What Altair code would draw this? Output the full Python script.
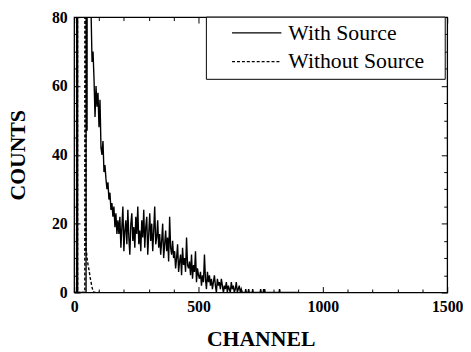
import altair as alt
import pandas as pd

# ---- data ----
series_names = ["With Source", "Without Source"]

# With Source: lead-in (spikes and steep decay)
with_lead_ch = [0, 10, 11, 13, 14, 48, 49, 51, 52, 53,
                56, 60, 64, 68, 72, 76, 80, 84, 88, 92, 96, 100, 104, 108, 112, 116,
                120, 124, 128, 132, 136, 140, 144, 148, 152, 156, 160, 164, 168, 172, 176]
with_lead_ct = [0, 0, 500, 500, 0, 0, 300, 300, 47, 200,
                150, 120, 95, 82, 67, 70, 62, 51, 60, 54, 58, 48, 56, 42, 40, 44,
                35, 37, 33, 30, 32, 27, 29, 24, 26, 22, 25, 19, 23, 17, 21]

# With Source: noisy body, channels 180..676 every 4 channels
with_body_ch = list(range(180, 677, 4))
with_body_ct = [17, 22, 13, 19, 25, 12, 18, 21, 14, 24, 16, 11, 20, 23, 15, 19, 13, 22, 17, 25, 14,
                18, 12, 21, 16, 24, 13, 19, 22, 11, 17, 23, 15, 20, 12, 18, 25, 14, 16, 21, 13,
                17, 11, 15, 20, 10, 14, 18, 12, 16, 9, 22, 13, 11, 15, 10,
                12, 7, 10, 14, 6, 9, 11, 5, 13, 8, 10, 6, 16, 8, 7,
                9, 5, 11, 4, 8, 6, 12, 3, 7, 5,
                4, 6, 2, 5, 3, 11, 4, 1, 6, 3,
                5, 2, 4, 1, 3, 5, 2, 0, 4, 2, 3, 1, 4, 2, 0,
                2, 1, 3, 0, 2, 1, 0, 3, 1, 2, 0, 1, 3, 0, 1, 2, 0, 1, 0]

# With Source: sparse tail
with_tail_ch = [680, 688, 690, 692, 700, 702, 704, 716, 718, 720, 748, 750, 752,
                760, 762, 764, 766, 768, 824, 826, 828, 900]
with_tail_ct = [0, 0, 1, 0, 0, 1, 0, 0, 1, 0, 0, 1, 0,
                0, 1, 0, 1, 0, 0, 1, 0, 0]

# Without Source
without_ch = [0, 10, 11, 13, 14, 43, 44, 46, 48, 52, 56, 60, 64, 68, 72, 76, 80, 100]
without_ct = [0, 0, 500, 500, 0, 0, 500, 150, 13, 10, 8, 6.5, 4.5, 3, 1.5, 0.5, 0, 0]

x_ticks_major = [0, 500, 1000, 1500]
x_ticks_minor = [100, 200, 300, 400, 600, 700, 800, 900, 1100, 1200, 1300, 1400]
y_ticks_major = [0, 20, 40, 60, 80]
y_ticks_minor = [5, 10, 15, 25, 30, 35, 45, 50, 55, 65, 70, 75]

w_ch = with_lead_ch + with_body_ch + with_tail_ch
w_ct = with_lead_ct + with_body_ct + with_tail_ct
df = pd.concat([
    pd.DataFrame({"channel": w_ch, "counts": w_ct, "series": series_names[0]}),
    pd.DataFrame({"channel": without_ch, "counts": without_ct, "series": series_names[1]}),
], ignore_index=True)

FONT = "Liberation Serif"
W, H = 378, 279
xs = alt.Scale(domain=[0, 1500], nice=False, zero=False)
ys = alt.Scale(domain=[0, 80], nice=False, zero=False)


def tick_axis(orient, vals, size):
    return alt.Axis(orient=orient, values=vals, tickSize={"expr": str(-size)},
                    labels=False, domain=False, grid=False, title=None, ticks=True,
                    tickColor="black", tickWidth=1)


x_label_axis = alt.Axis(orient="bottom", values=x_ticks_major, format="d", ticks=False,
                        domain=False, grid=False,
                        labelFont=FONT, labelFontSize=16, labelFontWeight="bold", labelColor="black",
                        labelBaseline="alphabetic", labelPadding=19, labelFlush=False,
                        labelOverlap=False, labelBound=False,
                        title="CHANNEL", titleFont=FONT, titleFontSize=22, titleFontWeight="bold",
                        titleColor="black", titleBaseline="alphabetic", titleY=54, titleX=W / 2,
                        titleAlign="center")
y_label_axis = alt.Axis(orient="left", values=y_ticks_major, format="d", ticks=False,
                        domain=False, grid=False,
                        labelFont=FONT, labelFontSize=16, labelFontWeight="bold", labelColor="black",
                        labelPadding=7, labelFlush=False, labelOverlap=False, labelBound=False,
                        title="COUNTS", titleFont=FONT, titleFontSize=22, titleFontWeight="bold",
                        titleColor="black", titleBaseline="alphabetic", titleX=-50, titleY=H / 2,
                        titleAngle=-90, titleAlign="center")

legend = alt.Legend(orient="none", legendX=159, legendY=5, title=None,
                    symbolType="stroke", symbolSize=2500, symbolStrokeWidth=1.2,
                    symbolStrokeColor="black", labelFont=FONT, labelFontSize=22,
                    labelFontWeight="normal", labelColor="black", labelLimit=400,
                    padding=0, rowPadding=7, clipHeight=22,
                    labelOffset=6, symbolOffset=0)

base = alt.Chart(df)

# legend frame (decoration only)
frame = alt.Chart(pd.DataFrame({"k": [0]})).mark_rect(
    fill="white", stroke="black", strokeWidth=1
).encode(x=alt.value(134), x2=alt.value(376), y=alt.value(0), y2=alt.value(63))

lines = base.mark_line(clip=True, strokeWidth=1.4, color="black").encode(
    x=alt.X("channel:Q", scale=xs, axis=x_label_axis),
    y=alt.Y("counts:Q", scale=ys, axis=y_label_axis),
    strokeDash=alt.StrokeDash("series:N",
                              scale=alt.Scale(domain=series_names, range=[[1, 0], [3, 2]]),
                              legend=legend),
)


def ghost(xaxis, yaxis):
    return base.mark_point(opacity=0, clip=True).encode(
        x=alt.X("channel:Q", scale=xs, axis=xaxis),
        y=alt.Y("counts:Q", scale=ys, axis=yaxis),
    )


chart = alt.layer(
    lines,
    ghost(tick_axis("bottom", x_ticks_major, 6), tick_axis("left", y_ticks_major, 6)),
    ghost(tick_axis("bottom", x_ticks_minor, 3.5), tick_axis("left", y_ticks_minor, 3.5)),
    ghost(tick_axis("top", x_ticks_major, 6), tick_axis("right", y_ticks_major, 6)),
    ghost(tick_axis("top", x_ticks_minor, 3.5), tick_axis("right", y_ticks_minor, 3.5)),
    frame,
).resolve_axis(x="independent", y="independent").properties(
    width=W, height=H,
    autosize=alt.AutoSizeParams(type="none"),
    padding={"left": 67, "top": 7, "right": 16, "bottom": 56},
    background="white",
).configure_view(stroke="black", strokeWidth=1.3).configure_axis(
    labelFont=FONT, titleFont=FONT
).configure_legend(labelFont=FONT)

chart.save("out.html", embed_options={"renderer": "svg", "actions": False})
